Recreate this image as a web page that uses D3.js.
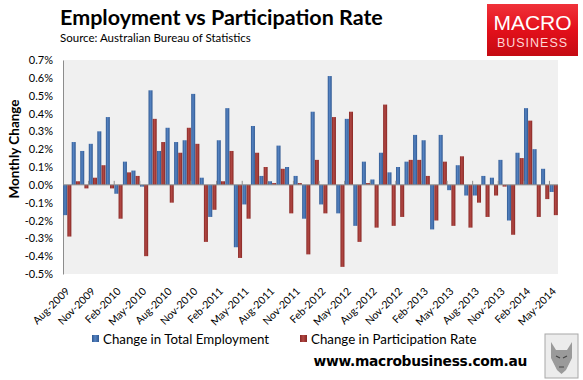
<!DOCTYPE html>
<html>
<head>
<meta charset="utf-8">
<script src="https://cdn.jsdelivr.net/npm/d3@7"></script>
<style>
body{margin:0;background:#fff;}
svg{display:block;font-family:Lato,"Liberation Sans",sans-serif;}
</style>
</head>
<body>
<div id="chart"></div>
<script>
// months Aug-2009 .. May-2014
var months = ["Aug-2009","Sep-2009","Oct-2009","Nov-2009","Dec-2009",
  "Jan-2010","Feb-2010","Mar-2010","Apr-2010","May-2010","Jun-2010","Jul-2010","Aug-2010","Sep-2010","Oct-2010","Nov-2010","Dec-2010",
  "Jan-2011","Feb-2011","Mar-2011","Apr-2011","May-2011","Jun-2011","Jul-2011","Aug-2011","Sep-2011","Oct-2011","Nov-2011","Dec-2011",
  "Jan-2012","Feb-2012","Mar-2012","Apr-2012","May-2012","Jun-2012","Jul-2012","Aug-2012","Sep-2012","Oct-2012","Nov-2012","Dec-2012",
  "Jan-2013","Feb-2013","Mar-2013","Apr-2013","May-2013","Jun-2013","Jul-2013","Aug-2013","Sep-2013","Oct-2013","Nov-2013","Dec-2013",
  "Jan-2014","Feb-2014","Mar-2014","Apr-2014","May-2014"];

// change in total employment (%)
var employment = [-0.17,0.24,0.19,0.23,0.30,0.38,-0.05,0.13,0.08,-0.01,0.53,0.19,0.32,0.24,0.25,0.51,0.04,-0.18,0.25,0.43,
  -0.35,-0.11,0.33,0.05,0.02,0.22,0.10,0.05,-0.19,0.41,-0.11,0.61,-0.16,0.37,-0.23,0.13,0.03,0.18,0.07,0.10,
  0.13,0.28,0.25,-0.25,0.28,-0.03,0.11,-0.06,-0.06,0.05,0.04,0.14,-0.20,0.18,0.43,0.20,0.09,-0.04];

// change in participation rate (%)
var participation = [-0.29,0.02,-0.02,0.04,0.11,-0.02,-0.19,0.07,0.05,-0.40,0.37,0.24,-0.10,0.18,0.32,0.23,-0.32,-0.14,0.02,0.19,
  -0.41,-0.19,0.18,0.10,0.01,0.09,-0.16,0.01,-0.39,0.14,-0.16,0.38,-0.46,0.41,-0.32,0.01,-0.24,0.45,-0.23,-0.18,
  0.14,0.14,0.05,-0.20,0.13,-0.23,0.16,-0.24,-0.10,-0.18,-0.06,-0.01,-0.28,0.15,0.36,-0.18,-0.08,-0.17];

var tickLabels = ["Aug-2009","Nov-2009","Feb-2010","May-2010","Aug-2010","Nov-2010","Feb-2011","May-2011","Aug-2011","Nov-2011",
  "Feb-2012","May-2012","Aug-2012","Nov-2012","Feb-2013","May-2013","Aug-2013","Nov-2013","Feb-2014","May-2014"];
var yTicks = [0.7,0.6,0.5,0.4,0.3,0.2,0.1,0.0,-0.1,-0.2,-0.3,-0.4,-0.5];

var seriesNames = ["Change in Total Employment","Change in Participation Rate"];

var W = 583, H = 380;
var L = 63, R = 558, T = 60, B = 274;

var svg = d3.select("#chart").append("svg").attr("width",W).attr("height",H);
var defs = svg.append("defs");

function grad(id, edge, mid){
  var g = defs.append("linearGradient").attr("id",id).attr("x1","0").attr("x2","1").attr("y1","0").attr("y2","0");
  g.append("stop").attr("offset","0").attr("stop-color",edge);
  g.append("stop").attr("offset","0.45").attr("stop-color",mid);
  g.append("stop").attr("offset","1").attr("stop-color",edge);
}
grad("gBlue","#2f5891","#5583c2");
grad("gRed","#872724","#b24844");
var lg = defs.append("linearGradient").attr("id","gLogo").attr("x1","0").attr("x2","0").attr("y1","0").attr("y2","1");
lg.append("stop").attr("offset","0").attr("stop-color","#f0323a");
lg.append("stop").attr("offset","0.5").attr("stop-color","#e3101b");
lg.append("stop").attr("offset","1").attr("stop-color","#c40a12");

// title
svg.append("text").attr("x",60).attr("y",25).attr("font-size",21.5).attr("font-weight","bold")
  .attr("fill","#000").text("Employment vs Participation Rate");
svg.append("text").attr("x",60).attr("y",42).attr("font-size",11.5).attr("fill","#000")
  .text("Source: Australian Bureau of Statistics");

// logo
svg.append("rect").attr("x",487).attr("y",4).attr("width",91).attr("height",52).attr("fill","url(#gLogo)");
svg.append("text").attr("x",532.5).attr("y",30).attr("text-anchor","middle").attr("font-size",21)
  .attr("font-family","'Liberation Sans',Arial,sans-serif").attr("fill","#fff").text("MACRO");
svg.append("text").attr("x",532.5).attr("y",47).attr("text-anchor","middle").attr("font-size",12.5)
  .attr("font-family","'Liberation Sans',Arial,sans-serif").attr("letter-spacing",1).attr("fill","#ffd6d6").text("BUSINESS");

// scales
var x = d3.scaleBand().domain(d3.range(months.length)).range([L,R]).paddingInner(0).paddingOuter(0);
var xs = d3.scaleBand().domain([0,1]).range([0,x.bandwidth()]).paddingInner(0.04).paddingOuter(0.04);
var y = d3.scaleLinear().domain([-0.5,0.7]).range([B,T]);

// plot area
svg.append("rect").attr("x",L).attr("y",T).attr("width",R-L).attr("height",B-T).attr("fill","#f0f0f0");

// y axis
var yAxis = svg.append("g").attr("transform","translate("+L+",0)")
  .call(d3.axisLeft(y).tickValues(yTicks).tickSize(0).tickPadding(10).tickFormat(function(d){return d.toFixed(1)+"%";}));
yAxis.select(".domain").attr("stroke","#8c8c8c");
yAxis.selectAll("text").attr("font-size",11).attr("fill","#000").attr("font-family","Lato,'Liberation Sans',sans-serif");

svg.append("text").attr("transform","translate(19,"+((T+B)/2-18)+") rotate(-90)")
  .attr("text-anchor","middle").attr("font-size",13.5).attr("font-weight","bold").text("Monthly Change");

// bars
var data = months.map(function(m,i){ return {i:i, vals:[employment[i], participation[i]]}; });
var groups = svg.append("g").selectAll("g").data(data).join("g")
  .attr("transform",function(d){return "translate("+x(d.i)+",0)";});
groups.selectAll("rect").data(function(d){return d.vals.map(function(v,k){return {k:k,v:v};});}).join("rect")
  .attr("x",function(d){return xs(d.k);})
  .attr("width",xs.bandwidth())
  .attr("y",function(d){return y(Math.max(0,d.v));})
  .attr("height",function(d){return Math.abs(y(d.v)-y(0));})
  .attr("fill",function(d){return d.k==0 ? "url(#gBlue)" : "url(#gRed)";});

// zero line with ticks every 3 months
svg.append("line").attr("x1",L).attr("x2",R).attr("y1",y(0)).attr("y2",y(0)).attr("stroke","#8c8c8c");
var tickIdx = d3.range(3, months.length, 3);
svg.append("g").selectAll("line").data(tickIdx).join("line")
  .attr("x1",function(i){return x(i);}).attr("x2",function(i){return x(i);})
  .attr("y1",y(0)-4).attr("y2",y(0)).attr("stroke","#8c8c8c");

// x labels
var labelIdx = d3.range(0, months.length, 3);
svg.append("g").selectAll("text").data(labelIdx).join("text")
  .attr("transform",function(i){return "translate("+(x(i)+x.bandwidth()/2+3)+","+(B+18)+") rotate(-45)";})
  .attr("text-anchor","end").attr("font-size",10.5)
  .text(function(i,k){return tickLabels[k];});

// legend
var legX = [92, 300];
var leg = svg.append("g").selectAll("g").data(seriesNames).join("g")
  .attr("transform",function(d,k){return "translate("+legX[k]+",340)";});
leg.append("rect").attr("x",0).attr("y",-5).attr("width",7).attr("height",7)
  .attr("fill",function(d,k){return k==0 ? "url(#gBlue)" : "url(#gRed)";});
leg.append("text").attr("x",11).attr("y",3.5).attr("font-size",13.3).text(function(d){return d;});

// footer
svg.append("text").attr("x",527).attr("y",366).attr("text-anchor","end").attr("font-size",13.8)
  .attr("font-weight","bold").attr("font-family","'DejaVu Sans',Verdana,sans-serif").attr("letter-spacing",-0.3)
  .text("www.macrobusiness.com.au");

// wolf badge
var wb = svg.append("g").attr("transform","translate(545,334)");
wb.append("rect").attr("width",33).attr("height",44).attr("fill","#ececec").attr("stroke","#a8a8a8");
wb.append("path").attr("d","M6,8 L11,16 L22,16 L27,8 L27,24 L21,36 L16.5,40 L12,36 L6,24 Z").attr("fill","#9a9a9a");
wb.append("path").attr("d","M11,22 L15,24 M22,22 L18,24 M14,33 L19,33").attr("stroke","#444").attr("stroke-width",1.2);
</script>
</body>
</html>
